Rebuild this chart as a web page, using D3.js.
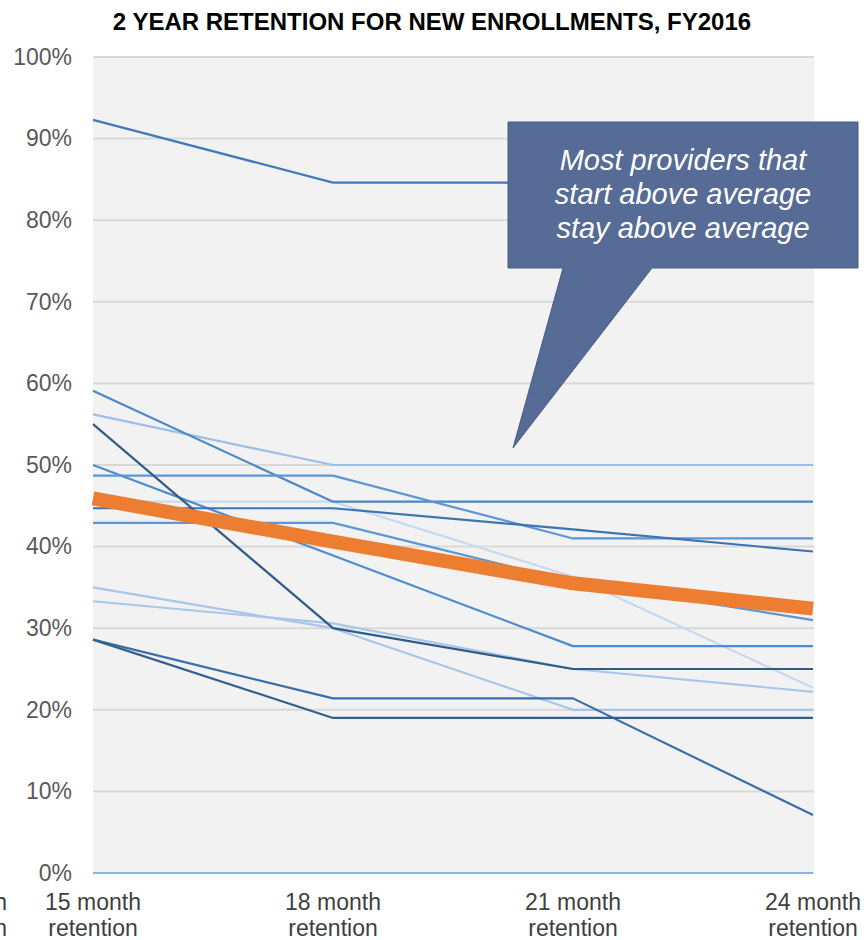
<!DOCTYPE html>
<html>
<head>
<meta charset="utf-8">
<script src="https://cdn.jsdelivr.net/npm/d3@7"></script>
<style>
  body { margin: 0; background: #fff; }
  svg { display: block; font-family: Arial, "Liberation Sans", sans-serif; }
</style>
</head>
<body>
<div id="chart"></div>
<script>
// data
const categories = ['15 month retention', '18 month retention', '21 month retention', '24 month retention'];
const cutLabel = ['12 month', 'retention'];
const yTicks = [0, 10, 20, 30, 40, 50, 60, 70, 80, 90, 100];

const provider01 = [92.3, 84.6, 84.6, 84.6];
const provider02 = [59.1, 45.5, 45.5, 45.5];
const provider03 = [56.2, 50.0, 50.0, 50.0];
const provider04 = [55.0, 30.0, 25.0, 25.0];
const provider05 = [50.0, 38.9, 27.8, 27.8];
const provider06 = [48.7, 48.7, 41.0, 41.0];
const provider07 = [45.5, 45.5, 36.3, 22.7];
const provider08 = [44.7, 44.7, 42.1, 39.4];
const provider09 = [42.9, 42.9, 35.7, 31.0];
const provider10 = [35.0, 30.0, 20.0, 20.0];
const provider11 = [33.3, 30.6, 25.0, 22.2];
const provider12 = [28.6, 21.4, 21.4, 7.1];
const provider13 = [28.6, 19.0, 19.0, 19.0];
const provider14 = [0, 0, 0, 0];
const average = [45.9, 40.6, 35.5, 32.4];

const providers = [
  { values: provider14, color: '#8db3e2' },
  { values: provider07, color: '#c6d9f0' },
  { values: provider03, color: '#9dbfe7' },
  { values: provider10, color: '#a9c6ea' },
  { values: provider11, color: '#a9c6ea' },
  { values: provider01, color: '#4279b8' },
  { values: provider02, color: '#4a88c8' },
  { values: provider05, color: '#4d8cd0' },
  { values: provider06, color: '#5b96d6' },
  { values: provider09, color: '#5b96d6' },
  { values: provider08, color: '#3a74b3' },
  { values: provider12, color: '#3a6ea8' },
  { values: provider13, color: '#335f8e' },
  { values: provider04, color: '#2f5b87' },
];

const calloutLines = ['Most providers that', 'start above average', 'stay above average'];

const canvasWidth = 864;
const canvasHeight = 940;
const plot = { left: 93, right: 813, top: 57, bottom: 873 };

const svg = d3.select('#chart')
  .append('svg')
  .attr('width', canvasWidth)
  .attr('height', canvasHeight);

// title
svg.append('text')
  .attr('x', 432)
  .attr('y', 30)
  .attr('text-anchor', 'middle')
  .style('font-weight', 'bold')
  .style('font-size', '24px')
  .attr('fill', '#000')
  .text('2 YEAR RETENTION FOR NEW ENROLLMENTS, FY2016');

const scaleX = d3.scalePoint()
  .domain(categories)
  .range([plot.left, plot.right])
  .padding(0);
const scaleY = d3.scaleLinear()
  .domain([0, 100])
  .range([plot.bottom, plot.top]);

// plot background
svg.append('rect')
  .attr('x', plot.left)
  .attr('y', plot.top)
  .attr('width', plot.right - plot.left + 1)
  .attr('height', plot.bottom - plot.top)
  .attr('fill', '#f2f2f2');

// gridlines
svg.append('g')
  .selectAll('line')
  .data(yTicks)
  .enter()
  .append('line')
    .attr('x1', plot.left)
    .attr('x2', plot.right + 1)
    .attr('y1', d => scaleY(d))
    .attr('y2', d => scaleY(d))
    .attr('stroke', '#d9d9d9')
    .attr('stroke-width', 2);

// y axis
const axisY = d3.axisLeft(scaleY)
  .tickValues(yTicks)
  .tickSize(0)
  .tickPadding(21)
  .tickFormat(d => `${d}%`);
svg.append('g')
  .attr('transform', `translate(${plot.left}, 0)`)
  .call(axisY)
  .call(g => g.select('.domain').remove())
  .selectAll('text')
    .attr('fill', '#595959')
    .style('font-size', '23px')
    .style('font-family', 'Arial, "Liberation Sans", sans-serif');

// x axis labels (two lines each)
const xLabels = svg.append('g');
xLabels.selectAll('text')
  .data(categories)
  .enter()
  .append('text')
    .attr('x', d => scaleX(d))
    .attr('text-anchor', 'middle')
    .attr('fill', '#404040')
    .style('font-size', '23px')
    .each(function addLines(d) {
      const words = d.split(' ');
      d3.select(this).append('tspan').attr('x', scaleX(d)).attr('y', 910).text(`${words[0]} ${words[1]}`);
      d3.select(this).append('tspan').attr('x', scaleX(d)).attr('y', 936).text(words[2]);
    });

// label of the cropped category to the left (cut off in the reference too)
xLabels.append('text')
  .attr('text-anchor', 'end')
  .attr('fill', '#404040')
  .style('font-size', '23px')
  .selectAll('tspan')
  .data(cutLabel)
  .enter()
  .append('tspan')
    .attr('x', 7)
    .attr('y', (d, i) => 910 + i * 26)
    .text(d => d);

const line = d3.line()
  .x((d, i) => scaleX(categories[i]))
  .y(d => scaleY(d));

// provider lines
svg.append('g')
  .selectAll('path')
  .data(providers)
  .enter()
  .append('path')
    .attr('d', d => line(d.values))
    .attr('fill', 'none')
    .attr('stroke', d => d.color)
    .attr('stroke-width', 2.2)
    .attr('stroke-linejoin', 'round');

// average line
svg.append('path')
  .attr('d', line(average))
  .attr('fill', 'none')
  .attr('stroke', '#ed7d31')
  .attr('stroke-width', 14)
  .attr('stroke-linejoin', 'round');

// callout
const callout = svg.append('g');
callout.append('path')
  .attr('d', 'M508,122 H858 V268 H652 L513,448 L563,268 H508 Z')
  .attr('fill', '#566b95')
  .attr('stroke', '#4a5d85')
  .attr('stroke-width', 1);
callout.append('text')
  .attr('text-anchor', 'middle')
  .attr('fill', '#fff')
  .style('font-style', 'italic')
  .style('font-size', '29px')
  .selectAll('tspan')
  .data(calloutLines)
  .enter()
  .append('tspan')
    .attr('x', 683)
    .attr('y', (d, i) => 170 + i * 34)
    .text(d => d);
</script>
</body>
</html>
